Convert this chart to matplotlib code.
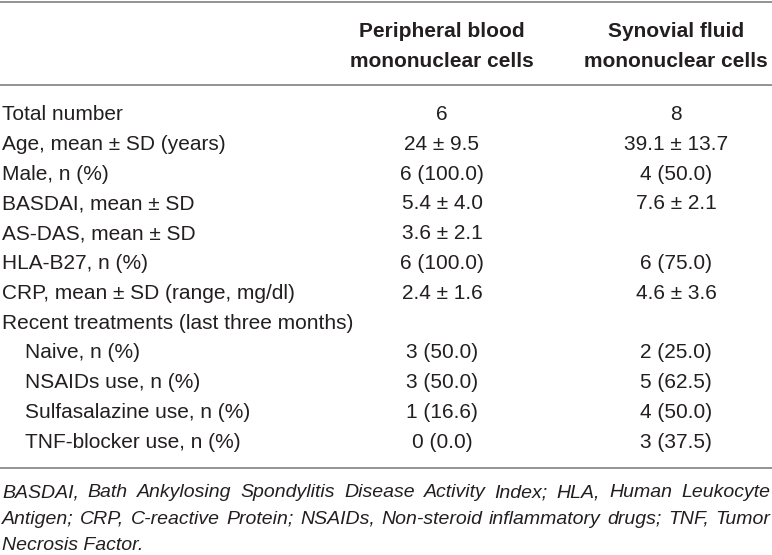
import matplotlib
matplotlib.use("Agg")
import matplotlib.pyplot as plt
from matplotlib.lines import Line2D

# table content
col_headers = [("Peripheral blood", "mononuclear cells"),
               ("Synovial fluid", "mononuclear cells")]
row_labels = ["Total number", "Age, mean \u00b1 SD (years)", "Male, n (%)",
              "BASDAI, mean \u00b1 SD", "AS-DAS, mean \u00b1 SD", "HLA-B27, n (%)",
              "CRP, mean \u00b1 SD (range, mg/dl)",
              "Recent treatments (last three months)",
              "Naive, n (%)", "NSAIDs use, n (%)", "Sulfasalazine use, n (%)",
              "TNF-blocker use, n (%)"]
pbmc_values = ["6", "24 \u00b1 9.5", "6 (100.0)", "5.4 \u00b1 4.0", "3.6 \u00b1 2.1",
               "6 (100.0)", "2.4 \u00b1 1.6", "", "3 (50.0)", "3 (50.0)",
               "1 (16.6)", "0 (0.0)"]
sfmc_values = ["8", "39.1 \u00b1 13.7", "4 (50.0)", "7.6 \u00b1 2.1", "",
               "6 (75.0)", "4.6 \u00b1 3.6", "", "2 (25.0)", "5 (62.5)",
               "4 (50.0)", "3 (37.5)"]
sub_rows = ["Naive, n (%)", "NSAIDs use, n (%)", "Sulfasalazine use, n (%)",
            "TNF-blocker use, n (%)"]
footnote = ["BASDAI, Bath Ankylosing Spondylitis Disease Activity Index; HLA, Human Leukocyte",
            "Antigen; CRP, C-reactive Protein; NSAIDs, Non-steroid inflammatory drugs; TNF, Tumor",
            "Necrosis Factor."]

W, H = 772, 555
TXT = "#231f20"
RULE = "#8a8a8a"
plt.rcParams['font.family'] = ['Liberation Sans', 'DejaVu Sans']

fig = plt.figure(figsize=(W / 100, H / 100), dpi=100)


def fx(x):
    return x / W


def fy(y):
    return 1 - y / H


def hline(y):
    fig.add_artist(Line2D([0, 1], [fy(y), fy(y)], color=RULE, linewidth=1.3,
                          transform=fig.transFigure))


col_x = [442, 676]

# rules
hline(1.5)
hline(85)
hline(468)

# header
for cx, (l1, l2) in zip(col_x, col_headers):
    fig.text(fx(cx), fy(37), l1, ha='center', va='baseline', fontsize=15,
             fontweight='bold', color=TXT)
    fig.text(fx(cx), fy(67), l2, ha='center', va='baseline', fontsize=15,
             fontweight='bold', color=TXT)

# body rows
base0, pitch = 120, 29.8
for i, lab in enumerate(row_labels):
    yb = base0 + i * pitch
    lx = 25 if lab in sub_rows else 2
    fig.text(fx(lx), fy(yb), lab, ha='left', va='baseline', fontsize=15, color=TXT)
    for cx, val in zip(col_x, [pbmc_values[i], sfmc_values[i]]):
        if val:
            fig.text(fx(cx), fy(yb), val, ha='center', va='baseline',
                     fontsize=15, color=TXT)

# footnote, justified except last line
renderer = fig.canvas.get_renderer()
left, right = 2, 770
foot_base = [497, 524, 550]
for k, line in enumerate(footnote):
    yb = foot_base[k]
    if k == len(footnote) - 1:
        fig.text(fx(left), fy(yb), line, ha='left', va='baseline', fontsize=14,
                 style='italic', color=TXT)
        continue
    words = line.split(" ")
    arts = [fig.text(0, fy(yb), w, ha='left', va='baseline', fontsize=14,
                     style='italic', color=TXT) for w in words]
    widths = [a.get_window_extent(renderer).width for a in arts]
    gap = (right - left - sum(widths)) / (len(words) - 1)
    x = left
    for a, wd in zip(arts, widths):
        a.set_x(fx(x))
        x += wd + gap

fig.savefig("out.png", dpi=100, facecolor="white")
